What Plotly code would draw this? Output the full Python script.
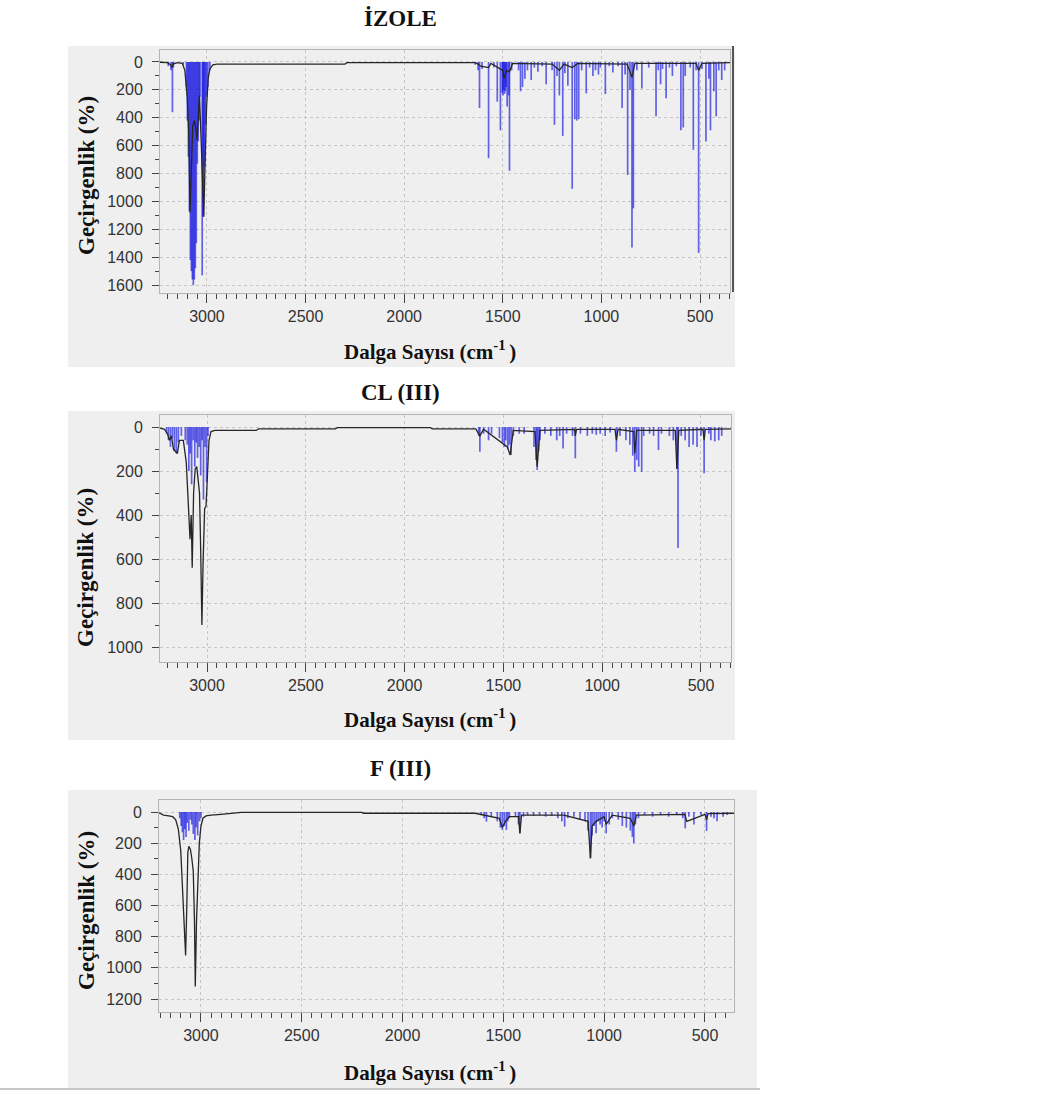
import plotly.graph_objects as go

# ---------------- spectra: computed IR sticks (wavenumber, intensity) ----------------
izole_freq = [3196, 3182, 3175, 3170, 3120, 3104, 3099, 3094, 3089, 3084, 3079, 3074, 3069,
              3064, 3059, 3054, 3049, 3044, 3039, 3035, 3024, 3020, 3016, 3012, 3007, 3002,
              2995, 2985,
              1640, 1625, 1618, 1605, 1572, 1545, 1528, 1512, 1503, 1499, 1495, 1491, 1487,
              1483, 1478, 1470, 1466, 1455, 1420, 1410, 1400, 1388, 1375, 1356, 1340, 1322,
              1300, 1280, 1250, 1238, 1225, 1213, 1196, 1185, 1170, 1148, 1135, 1125, 1115,
              1100, 1077, 1060, 1043, 1030, 1015, 1005, 980, 960, 942, 915, 895, 880, 867,
              855, 845, 838, 820, 795, 760, 723, 712, 700, 690, 672, 655, 640, 620, 597, 585,
              575, 550, 534, 520, 507, 490, 470, 455, 447, 430, 418, 405, 390, 375]
izole_int = [30, 60, 360, 40, 20, 180, 420, 680, 1070, 1420, 1500, 1560, 1600,
             1560, 1480, 1300, 730, 570, 420, 250, 1530, 1110, 960, 750, 450, 250,
             180, 60,
             20, 60, 330, 50, 690, 40, 285, 490, 220, 240, 200, 230, 210,
             180, 320, 240, 780, 60, 60, 210, 180, 120, 60, 130, 40, 70,
             30, 160, 60, 450, 100, 240, 530, 80, 170, 910, 410, 420, 410,
             60, 225, 40, 100, 60, 90, 40, 230, 30, 75, 30, 330, 90, 810,
             200, 1330, 1050, 60, 190, 40, 390, 60, 160, 50, 260, 40, 100, 30, 490, 470,
             100, 40, 630, 60, 1370, 50, 570, 120, 490, 210, 390, 60, 130, 60]

# broadened envelope (black line)
izole_env_x = [3238, 3200, 3185, 3178, 3172, 3150, 3125, 3112, 3100, 3092, 3086, 3080, 3072,
               3064, 3056, 3050, 3044, 3038, 3030, 3022, 3016, 3010, 3002, 2994, 2985, 2970,
               2950, 2300, 2290, 1640, 1625, 1612, 1572, 1560, 1500, 1494, 1480, 1466, 1450,
               1250, 1213, 1190, 1148, 1120, 870, 845, 830, 520, 507, 490, 348]
izole_env_y = [2, 5, 20, 40, 15, 5, 10, 60, 250, 520, 1080, 720, 460,
               420, 470, 560, 420, 240, 540, 900, 1110, 760, 330, 120, 50, 20,
               15, 15, 5, 5, 15, 30, 40, 10, 60, 120, 60, 70, 10,
               15, 60, 15, 40, 10, 15, 110, 10, 10, 60, 10, 5]

cl_freq = [3205, 3195, 3185, 3175, 3165, 3155, 3145, 3130, 3110, 3100, 3092, 3085, 3078,
           3070, 3062, 3055, 3048, 3040, 3032, 3025, 3018, 3010, 3002, 2995,
           1625, 1619, 1600, 1575, 1560, 1520, 1505, 1495, 1488, 1478, 1470, 1461, 1450,
           1420, 1395, 1345, 1335, 1329, 1322, 1315, 1290, 1260, 1230, 1215, 1198, 1180,
           1150, 1136, 1110, 1075, 1050, 1030, 1010, 985, 960, 928, 910, 880, 860, 845,
           835, 825, 815, 800, 790, 760, 740, 715, 700, 660, 640, 622, 616, 600, 580, 560,
           540, 520, 500, 484, 460, 450, 430, 410, 395]
cl_int = [30, 60, 90, 50, 110, 120, 70, 40, 60, 80, 200, 120, 260,
          60, 180, 70, 140, 90, 220, 60, 330, 90, 250, 40,
          40, 112, 30, 60, 30, 50, 70, 90, 60, 100, 80, 127, 40,
          30, 30, 90, 150, 195, 110, 60, 30, 40, 60, 40, 97, 30,
          40, 142, 30, 40, 30, 35, 30, 40, 25, 112, 40, 60, 80, 130,
          203, 150, 180, 203, 40, 30, 40, 104, 30, 40, 60, 190, 550, 40, 60, 90,
          80, 90, 40, 210, 30, 60, 65, 60, 40]

cl_env_x = [3238, 3215, 3200, 3190, 3180, 3170, 3160, 3150, 3140, 3120, 3105, 3095, 3086,
            3080, 3075, 3068, 3060, 3052, 3045, 3038, 3032, 3026, 3020, 3012, 3005, 2998,
            2990, 2980, 2960, 2750, 2740, 2350, 2340, 1870, 1860, 1640, 1619, 1600, 1480,
            1466, 1450, 1340, 1329, 1315, 1140, 1136, 1130, 935, 928, 920, 840, 835, 825,
            630, 622, 612, 490, 484, 478, 348]
cl_env_y = [5, 10, 30, 60, 40, 100, 110, 120, 60, 60, 160, 380, 510,
            400, 640, 300, 190, 180, 230, 300, 560, 900, 620, 370, 360, 180,
            60, 20, 15, 15, 8, 8, 2, 2, 8, 8, 40, 10, 90,
            127, 15, 20, 180, 15, 10, 40, 10, 10, 60, 10, 20, 120, 15,
            15, 190, 15, 10, 60, 10, 8]

f_freq = [3105, 3098, 3092, 3086, 3080, 3074, 3068, 3060, 3052, 3045, 3038, 3030, 3024,
          3016, 3008, 3000,
          1610, 1595, 1584, 1560, 1530, 1515, 1505, 1495, 1485, 1478, 1470, 1440, 1425,
          1418, 1400, 1380, 1350, 1320, 1290, 1260, 1230, 1210, 1196, 1180, 1150, 1120,
          1095, 1080, 1068, 1060, 1050, 1040, 1030, 1020, 1010, 1000, 990, 975, 960, 930,
          910, 890, 870, 860, 853, 845, 830, 800, 760, 720, 680, 640, 610, 598, 580, 555,
          520, 492, 470, 455, 440, 410, 390]
f_int = [40, 90, 130, 180, 110, 160, 70, 120, 50, 80, 140, 180, 100,
         150, 60, 40,
         20, 40, 62, 30, 60, 100, 115, 90, 115, 60, 40, 30, 80,
         137, 30, 20, 25, 20, 30, 25, 40, 60, 94, 40, 30, 50,
         60, 120, 297, 150, 90, 137, 60, 80, 100, 60, 137, 80, 40, 50,
         90, 100, 120, 160, 200, 80, 40, 20, 30, 20, 30, 20, 40, 105, 30, 80,
         20, 122, 30, 40, 60, 30, 20]

f_env_x = [3208, 3200, 3185, 3160, 3140, 3125, 3112, 3100, 3090, 3082, 3076, 3070, 3065,
           3060, 3052, 3045, 3038, 3032, 3028, 3022, 3015, 3008, 3000, 2990, 2975, 2950,
           2900, 2850, 2800, 2200, 2195, 1640, 1600, 1520, 1505, 1490, 1470, 1425, 1418,
           1410, 1200, 1080, 1068, 1060, 1040, 1000, 990, 960, 870, 853, 840, 600, 590,
           500, 492, 485, 356]
f_env_y = [5, 10, 20, 25, 30, 50, 110, 250, 500, 700, 920, 600, 260,
           220, 240, 300, 380, 700, 1120, 700, 380, 200, 90, 40, 25, 20,
           15, 10, 3, 3, 8, 8, 20, 40, 100, 60, 30, 30, 137,
           20, 20, 60, 297, 90, 60, 30, 80, 20, 40, 90, 20, 15, 60,
           15, 50, 10, 8]

titles = ["İZOLE", "CL (III)", "F (III)"]
x_title = "Dalga Sayısı (cm<sup>-1 </sup>)"
y_title = "Geçirgenlik (%)"

# ---------------- layout geometry (pixels in the 1044 x 1094 page) ----------------
W, H = 1044, 1094
panels = [
    dict(freq=izole_freq, inten=izole_int, ex=izole_env_x, ey=izole_env_y,
         plot=(160, 730, 50, 293), box=(68, 735, 46, 367), xr=[3238, 348], yr=[1657, -86],
         ymax=1600, title_y=19, xt_y=350, yt_y=176),
    dict(freq=cl_freq, inten=cl_int, ex=cl_env_x, ey=cl_env_y,
         plot=(160, 731, 415, 662), box=(68, 735, 411, 740), xr=[3238, 348], yr=[1068, -55],
         ymax=1000, title_y=392, xt_y=718, yt_y=568),
    dict(freq=f_freq, inten=f_int, ex=f_env_x, ey=f_env_y,
         plot=(159, 734, 800, 1012), box=(68, 757, 790, 1088), xr=[3208, 356], yr=[1283, -77],
         ymax=1200, title_y=768, xt_y=1071, yt_y=911),
]


def px(x):
    return x / W


def py(y):
    return 1 - y / H


tick_font = dict(family="Liberation Sans Narrow, Liberation Sans, Arial, sans-serif",
                 size=16, color="#333333")
serif_bold = "Liberation Serif, Times New Roman, serif"

fig = go.Figure()
shapes = []
annotations = []
layout_axes = {}

for i, p in enumerate(panels, start=1):
    xa = "x" if i == 1 else f"x{i}"
    ya = "y" if i == 1 else f"y{i}"

    # stick spectrum: vertical lines from zero to each intensity
    sx, sy = [], []
    for f, v in zip(p["freq"], p["inten"]):
        sx += [f, f, None]
        sy += [0, v, None]
    fig.add_trace(go.Scatter(x=sx, y=sy, mode="lines", xaxis=xa, yaxis=ya,
                             line=dict(color="rgba(10,10,225,0.62)", width=1.7),
                             hoverinfo="skip", showlegend=False))
    # broadened envelope
    fig.add_trace(go.Scatter(x=p["ex"], y=p["ey"], mode="lines", xaxis=xa, yaxis=ya,
                             line=dict(color="#262626", width=1.3),
                             showlegend=False))

    x0, x1, y0, y1 = p["plot"]
    axis_common = dict(showline=True, mirror=True, linecolor="#b4b4b4", linewidth=1,
                       ticks="outside", tickcolor="#444444", tickwidth=1.4,
                       showgrid=True, gridcolor="#c6c6c6", griddash="3px,3px", gridwidth=1,
                       zeroline=False, tickfont=tick_font)
    layout_axes["xaxis" if i == 1 else f"xaxis{i}"] = dict(
        axis_common, domain=[px(x0), px(x1)], anchor=ya, range=p["xr"],
        tick0=0, dtick=500, ticklen=9,
        minor=dict(dtick=50, tick0=0, ticks="outside", ticklen=5, tickcolor="#444444",
                   tickwidth=1.3, showgrid=False))
    layout_axes["yaxis" if i == 1 else f"yaxis{i}"] = dict(
        axis_common, domain=[py(y1), py(y0)], anchor=xa, range=p["yr"],
        tickmode="array", tickvals=list(range(0, p["ymax"] + 1, 200)), ticklen=7,
        ticklabelstandoff=6,
        minor=dict(tickvals=list(range(100, p["ymax"], 200)), ticks="outside", ticklen=4,
                   tickcolor="#444444", tickwidth=1.3, showgrid=False))

    bx0, bx1, by0, by1 = p["box"]
    shapes.append(dict(type="rect", xref="paper", yref="paper", layer="below",
                       x0=px(bx0), x1=px(bx1), y0=py(by1), y1=py(by0),
                       fillcolor="#efefef", line=dict(width=0)))

    annotations.append(dict(text=f"<b>{titles[i - 1]}</b>", xref="paper", yref="paper",
                            x=px(400), y=py(p["title_y"]), xanchor="center", yanchor="middle",
                            showarrow=False,
                            font=dict(family=serif_bold, size=23, color="#111")))
    annotations.append(dict(text=f"<b>{x_title}</b>", xref="paper", yref="paper",
                            x=px(430), y=py(p["xt_y"]), xanchor="center", yanchor="middle",
                            showarrow=False,
                            font=dict(family=serif_bold, size=21, color="#111")))
    annotations.append(dict(text=f"<b>{y_title}</b>", xref="paper", yref="paper",
                            x=px(86), y=py(p["yt_y"]), xanchor="center", yanchor="middle",
                            showarrow=False, textangle=-90,
                            font=dict(family=serif_bold, size=23, color="#111")))

# window edges next to the first and last panels
shapes.append(dict(type="line", xref="paper", yref="paper", x0=px(733), x1=px(733),
                   y0=py(292), y1=py(46), line=dict(color="#555555", width=2)))
shapes.append(dict(type="line", xref="paper", yref="paper", x0=px(0), x1=px(760),
                   y0=py(1089), y1=py(1089), line=dict(color="#c8c8c8", width=2)))

fig.update_layout(width=W, height=H, margin=dict(l=0, r=0, t=0, b=0),
                  paper_bgcolor="white", plot_bgcolor="#fcfcef",
                  shapes=shapes, annotations=annotations, showlegend=False,
                  **layout_axes)

fig.write_html("out.html")
